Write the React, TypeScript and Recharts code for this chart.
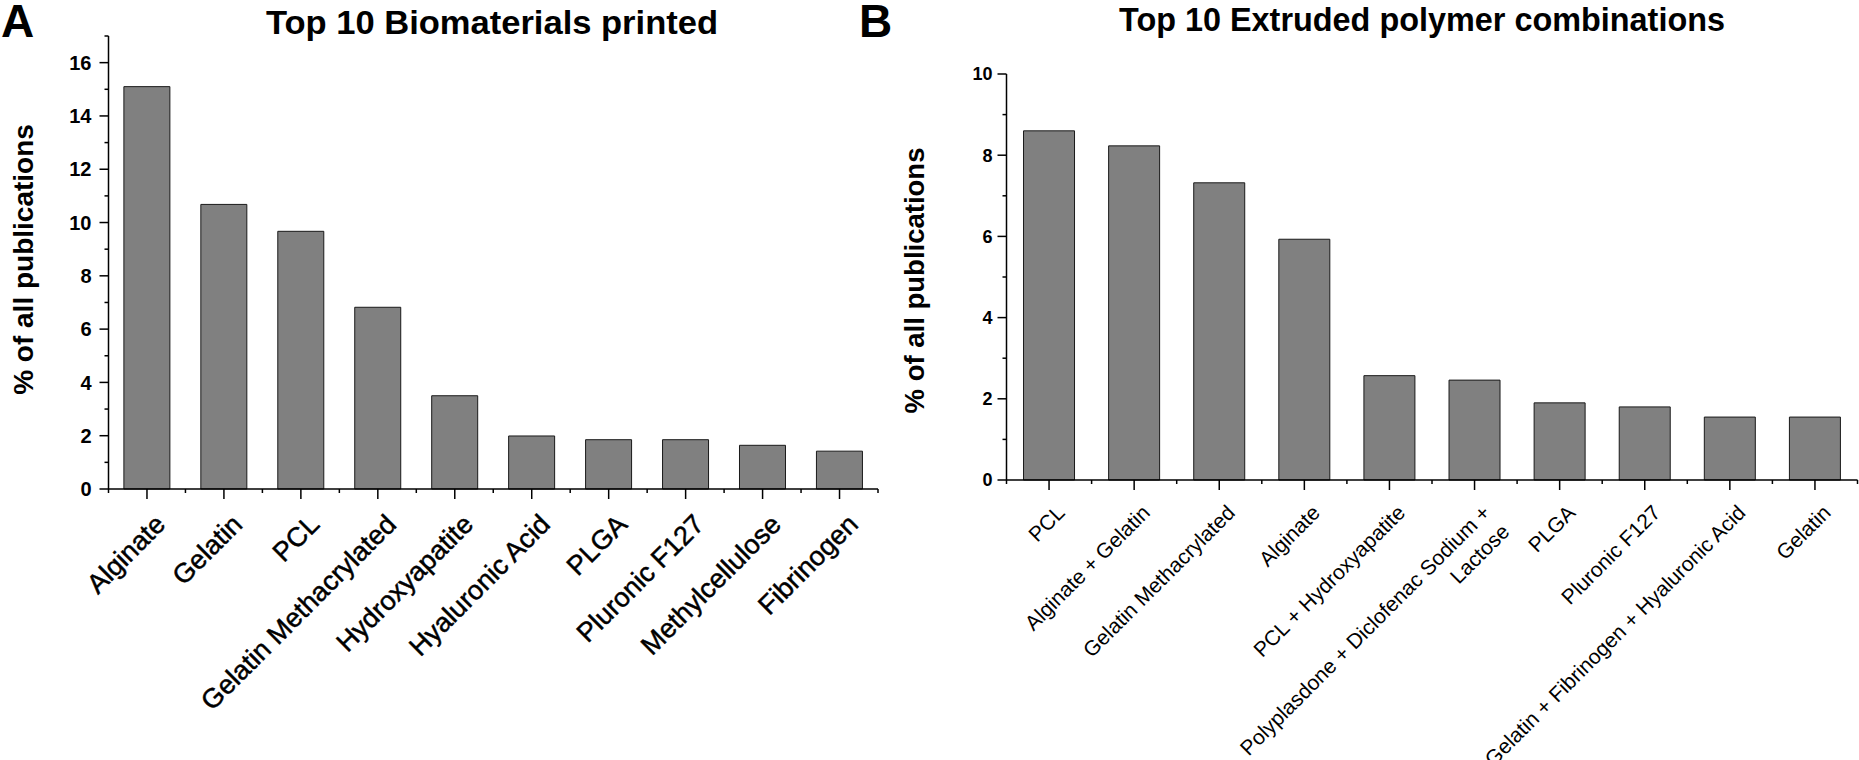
import React from 'react';
import { BarChart, Bar, XAxis, YAxis } from 'recharts';

// ---------- data ----------
const categoriesA = ['Alginate', 'Gelatin', 'PCL', 'Gelatin Methacrylated', 'Hydroxyapatite', 'Hyaluronic Acid', 'PLGA', 'Pluronic F127', 'Methylcellulose', 'Fibrinogen'];
const valuesA = [15.1, 10.68, 9.67, 6.82, 3.5, 1.99, 1.85, 1.85, 1.64, 1.42];
const yTicksA = [0, 1, 2, 3, 4, 5, 6, 7, 8, 9, 10, 11, 12, 13, 14, 15, 16, 17];

const categoriesB = ['PCL', 'Alginate + Gelatin', 'Gelatin Methacrylated', 'Alginate', 'PCL + Hydroxyapatite', 'Polyplasdone + Diclofenac Sodium +\nLactose', 'PLGA', 'Pluronic F127', 'Gelatin + Fibrinogen + Hyaluronic Acid', 'Gelatin'];
const valuesB = [8.6, 8.23, 7.32, 5.93, 2.57, 2.46, 1.9, 1.8, 1.55, 1.55];
const yTicksB = [0, 1, 2, 3, 4, 5, 6, 7, 8, 9, 10];

const titleA = 'Top 10 Biomaterials printed';
const titleB = 'Top 10 Extruded polymer combinations';
const yLabel = '% of all publications';

const dataA = categoriesA.map((c, i) => ({ name: c, value: valuesA[i] }));
const dataB = categoriesB.map((c, i) => ({ name: c, value: valuesB[i] }));

const FONT = '"Liberation Sans", Arial, Helvetica, sans-serif';

// ---------- tick renderers ----------
function makeYTick(fontSize: number, labelGap: number) {
  return (props: any) => {
    const { x, y, payload } = props;
    const v = payload.value;
    const major = v % 2 === 0;
    return (
      <g>
        <line x1={x - (major ? 9 : 4)} x2={x} y1={y} y2={y} stroke="#000" strokeWidth={1.5} />
        {major && (
          <text x={x - labelGap} y={y} dy="0.36em" textAnchor="end" fontFamily={FONT} fontWeight="bold" fontSize={fontSize} fill="#000">
            {v}
          </text>
        )}
      </g>
    );
  };
}

function makeXTick(band: number, fontSize: number, dx: number, dy: number, lineH: number, lastLabel: string, heavy: number) {
  return (props: any) => {
    const { x, y, payload } = props;
    const lines = String(payload.value).split('\n');
    const isLast = payload.value === lastLabel;
    return (
      <g>
        <line x1={x} x2={x} y1={y} y2={y + 10} stroke="#000" strokeWidth={1.5} />
        <line x1={x - band / 2} x2={x - band / 2} y1={y} y2={y + 4} stroke="#000" strokeWidth={1.5} />
        {isLast && <line x1={x + band / 2} x2={x + band / 2} y1={y} y2={y + 4} stroke="#000" strokeWidth={1.5} />}
        <text
          transform={`translate(${x + dx},${y + dy}) rotate(-45)`}
          textAnchor="end"
          fontFamily={FONT}
          fontSize={fontSize}
          fill="#000"
          stroke={heavy > 0 ? '#000' : 'none'}
          strokeWidth={heavy}
        >
          {lines.map((l, i) => (
            <tspan key={i} x={0} dy={i === 0 ? 0 : lineH}>{l}</tspan>
          ))}
        </text>
      </g>
    );
  };
}

// ---------- geometry ----------
const A = { left: 108.5, right: 878, top: 36, bottom: 489, width: 900 };
const B = { offset: 930, left: 1006.5, right: 1857.5, top: 74, bottom: 480, width: 929 };
const bandA = (A.right - A.left) / categoriesA.length;
const bandB = (B.right - B.left) / categoriesB.length;

export default function App() {
  return (
    <div style={{ position: 'absolute', left: 0, top: 0, width: 1859, height: 760, background: '#fff', overflow: 'hidden' }}>
      <div style={{ position: 'absolute', left: 0, top: 0 }}>
        <BarChart
          width={A.width}
          height={760}
          data={dataA}
          margin={{ top: A.top, right: A.width - A.right, bottom: 0, left: 0 }}
          barCategoryGap="20%"
        >
          <XAxis
            dataKey="name"
            interval={0}
            height={760 - A.bottom}
            tickSize={0}
            tickMargin={0}
            tickLine={false}
            axisLine={{ stroke: '#000', strokeWidth: 1.5 }}
            tick={makeXTick(bandA, 27, 20, 37, 31, categoriesA[categoriesA.length - 1], 0.5)}
          />
          <YAxis
            width={A.left}
            domain={[0, 17]}
            ticks={yTicksA}
            interval={0}
            tickSize={0}
            tickMargin={0}
            tickLine={false}
            axisLine={{ stroke: '#000', strokeWidth: 1.5 }}
            tick={makeYTick(20, 17)}
          />
          <Bar dataKey="value" fill="#808080" stroke="#1a1a1a" strokeWidth={1} isAnimationActive={false} />
        </BarChart>
      </div>
      <div style={{ position: 'absolute', left: B.offset, top: 0 }}>
        <BarChart
          width={B.width}
          height={760}
          data={dataB}
          margin={{ top: B.top, right: B.offset + B.width - B.right, bottom: 0, left: 0 }}
          barCategoryGap="20%"
        >
          <XAxis
            dataKey="name"
            interval={0}
            height={760 - B.bottom}
            tickSize={0}
            tickMargin={0}
            tickLine={false}
            axisLine={{ stroke: '#000', strokeWidth: 1.5 }}
            tick={makeXTick(bandB, 21, 17, 34, 27, categoriesB[categoriesB.length - 1], 0)}
          />
          <YAxis
            width={B.left - B.offset}
            domain={[0, 10]}
            ticks={yTicksB}
            interval={0}
            tickSize={0}
            tickMargin={0}
            tickLine={false}
            axisLine={{ stroke: '#000', strokeWidth: 1.5 }}
            tick={makeYTick(18, 14)}
          />
          <Bar dataKey="value" fill="#808080" stroke="#1a1a1a" strokeWidth={1} isAnimationActive={false} />
        </BarChart>
      </div>
      <svg width={1859} height={760} style={{ position: 'absolute', left: 0, top: 0, pointerEvents: 'none' }}>
        <text x={1} y={37} fontFamily={FONT} fontWeight="bold" fontSize={46} fill="#000">A</text>
        <text x={859} y={37} fontFamily={FONT} fontWeight="bold" fontSize={46} fill="#000">B</text>
        <text x={266} y={34} fontFamily={FONT} fontWeight="bold" fontSize={34} fill="#000" textLength={452} lengthAdjust="spacingAndGlyphs">{titleA}</text>
        <text x={1119} y={31} fontFamily={FONT} fontWeight="bold" fontSize={33} fill="#000" textLength={606} lengthAdjust="spacingAndGlyphs">{titleB}</text>
        <text transform="translate(33,259.5) rotate(-90)" textAnchor="middle" fontFamily={FONT} fontWeight="bold" fontSize={28} fill="#000">{yLabel}</text>
        <text transform="translate(924,280.5) rotate(-90)" textAnchor="middle" fontFamily={FONT} fontWeight="bold" fontSize={27.5} fill="#000">{yLabel}</text>
      </svg>
    </div>
  );
}
